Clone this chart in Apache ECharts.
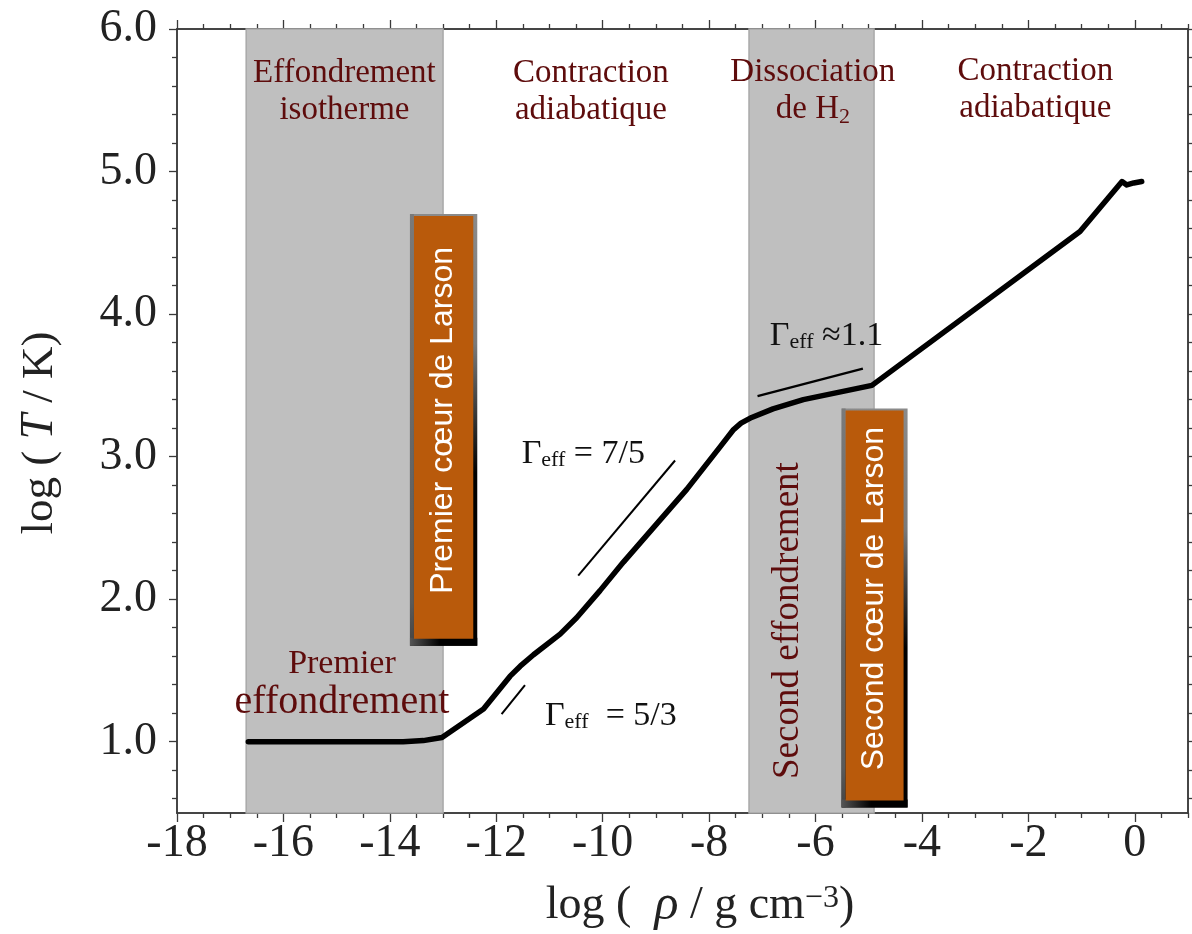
<!DOCTYPE html>
<html><head><meta charset="utf-8">
<script src="https://cdn.jsdelivr.net/npm/echarts@6/dist/echarts.min.js"></script>
<style>html,body{margin:0;padding:0;background:#fff}#c{width:1192px;height:934px}</style>
</head><body><div id="c"></div>
<script>
// ---- data (log rho [g cm^-3], log T [K]) ----
const logRho = [-16.66,-13.75,-13.37,-13.02,-12.24,-11.74,-11.55,-11.30,-10.80,-10.49,-10.05,-9.61,-9.05,-8.42,-7.79,-7.54,-7.40,-7.20,-6.80,-6.23,-4.94,-1.03,-0.24,-0.15,-0.02,0.13];
const logT   = [1.00,1.00,1.008,1.03,1.23,1.46,1.53,1.61,1.755,1.87,2.06,2.26,2.50,2.77,3.07,3.19,3.235,3.275,3.335,3.40,3.50,4.58,4.93,4.906,4.92,4.93];

// reference slopes
const gamma53 = [[-11.90,1.193],[-11.46,1.397]];
const gamma75 = [[-10.46,2.165],[-8.64,2.973]];
const gamma11 = [[-7.09,3.425],[-5.11,3.617]];

// shaded phases (log rho ranges)
const bandRanges = [[-16.7,-13.0],[-7.25,-4.9]];

// Larson cores boxes [x0, y0, x1, y1] in data units
const coreBoxes = [[-13.622,1.674,-12.357,4.702],[-5.510,0.538,-4.270,3.337]];
const coreBoxTexts = ['Premier cœur de Larson','Second cœur de Larson'];

// phase labels
const phaseTexts = ['{a|Effondrement}\n{a|isotherme}','{a|Contraction}\n{a|adiabatique}','{a|Dissociation}\n{a|de H}{b|2}','{a|Contraction}\n{a|adiabatique}'];
const phaseAnchors = [[-14.853,5.560],[-10.221,5.560],[-6.050,5.567],[-1.869,5.575]];

const gammaTexts = ['{g|Γ}{s|eff}{m| = 7/5}','{g|Γ}{s|eff}{m|  = 5/3}','{g|Γ}{s|eff}{m| ≈1.1}'];
const gammaAnchors = [[-11.523,3.016],[-11.085,1.178],[-6.858,3.845]];

const collapseAnchors = [[-14.90,1.411],[-6.519,1.850]];

// axis ticks
const xMajor = [-18,-16,-14,-12,-10,-8,-6,-4,-2,0];
const yMajor = [1,2,3,4,5,6];
const X_MIN = -18, X_MAX = 1, Y_MIN = 0.5, Y_MAX = 6;

const xMinor = []; for (let k = -36; k <= 2; k++) { if (k % 4 !== 0) xMinor.push(k/2); }
const yMinor = []; for (let k = 3; k <= 29; k++) { if (k % 5 !== 0) yMinor.push(k/5); }

const serif = "'Liberation Serif','Times New Roman',serif";
const sans = "'Liberation Sans',Arial,sans-serif";
const axisColor = '#3a3a3a';
const darkRed = '#5e0c0c';
const orange = '#b95a0b';

const chart = echarts.init(document.getElementById('c'));

function xAx(pos, major, withLabel) {
  return {
    type:'value', position:pos, min:X_MIN, max:X_MAX,
    axisLine:{show:true,onZero:false,lineStyle:{color:axisColor,width:1.5}},
    axisTick:{show:true,inside:false,length:major?9:5,customValues:major?xMajor:xMinor,lineStyle:{color:axisColor,width:1.3}},
    axisLabel:{show:!!withLabel,customValues:xMajor,margin:8,fontFamily:serif,fontSize:46,color:'#222',formatter:v=>String(v)},
    splitLine:{show:false}, minorTick:{show:false}
  };
}
function yAx(pos, major, withLabel) {
  return {
    type:'value', position:pos, min:Y_MIN, max:Y_MAX,
    axisLine:{show:true,onZero:false,lineStyle:{color:axisColor,width:1.5}},
    axisTick:{show:true,inside:false,length:major?8:5,customValues:major?yMajor:yMinor,lineStyle:{color:axisColor,width:1.3}},
    axisLabel:{show:!!withLabel,customValues:yMajor,margin:20,fontFamily:serif,fontSize:46,color:'#222',formatter:v=>v.toFixed(1)},
    splitLine:{show:false}, minorTick:{show:false}
  };
}

const xMain = xAx('bottom', true, true);
xMain.name = '{a|log (  }{r|ρ}{a| / g cm}{s|−3}{a|)}';
xMain.nameLocation = 'middle';
xMain.nameGap = 70;
xMain.nameTextStyle = {padding:[0,0,0,35], rich:{
  a:{fontFamily:serif,fontSize:46,color:'#222',lineHeight:46},
  r:{fontFamily:serif,fontSize:50,fontStyle:'italic',color:'#222',lineHeight:46},
  s:{fontFamily:serif,fontSize:32,color:'#222',lineHeight:26,verticalAlign:'top'}
}};
const yMain = yAx('left', true, true);
yMain.name = '{a|log ( }{i|T}{a| / K)}';
yMain.nameLocation = 'middle';
yMain.nameRotate = 90;
yMain.nameGap = 114;
yMain.nameTextStyle = {padding:[0,24,0,0], rich:{
  a:{fontFamily:serif,fontSize:45,color:'#222',lineHeight:46},
  i:{fontFamily:serif,fontSize:46,fontStyle:'italic',color:'#222',lineHeight:46}
}};

const option = {
  animation:false,
  backgroundColor:'#fff',
  grid:{left:177,right:4,top:29,bottom:121,outerBoundsMode:'none',containLabel:false},
  xAxis:[xMain, xAx('bottom',false,false), xAx('top',true,false), xAx('top',false,false)],
  yAxis:[yMain, yAx('left',false,false), yAx('right',true,false), yAx('right',false,false)],
  series:[
    {
      type:'custom', name:'bands', z:1, silent:true,
      data: bandRanges.map(r=>[r[0], r[1]]),
      encode:{x:[0,1]},
      renderItem:(params, api)=>{
        const a = api.coord([api.value(0), Y_MAX]);
        const b = api.coord([api.value(1), Y_MIN]);
        return {type:'rect', shape:{x:a[0], y:a[1], width:b[0]-a[0], height:b[1]-a[1]},
          style:{fill:'#bfbfbf', stroke:'#a9a9a9', lineWidth:1.5}};
      }
    },
    {
      type:'custom', name:'cores', z:3, silent:true,
      data: coreBoxes,
      encode:{x:[0,2], y:[1,3]},
      renderItem:(params, api)=>{
        const i = params.dataIndex;
        const tl = api.coord([api.value(0), api.value(3)]);
        const br = api.coord([api.value(2), api.value(1)]);
        const w = br[0]-tl[0], h = br[1]-tl[1];
        const G = echarts.graphic.LinearGradient;
        return {type:'group', children:[
          {type:'rect', z2:1, shape:{x:tl[0], y:tl[1], width:w, height:h},
            style:{fill:new G(0,0,0,1,[{offset:0,color:'#8a8a8a'},{offset:0.3,color:'#7a7a7a'},{offset:0.6,color:'#000'},{offset:1,color:'#000'}])}},
          {type:'rect', z2:2, shape:{x:tl[0], y:tl[1], width:4, height:h},
            style:{fill:new G(0,0,0,1,[{offset:0,color:'#7a7a7a'},{offset:0.9,color:'#5a5a5a'},{offset:1,color:'#444'}])}},
          {type:'rect', z2:3, shape:{x:tl[0], y:br[1]-8, width:w, height:8},
            style:{fill:new G(0,0,1,0,[{offset:0,color:'#555'},{offset:0.45,color:'#000'},{offset:1,color:'#000'}])}},
          {type:'rect', z2:4, shape:{x:tl[0]+4, y:tl[1]+2, width:w-8, height:h-9}, style:{fill:orange, opacity:1}},
          {type:'text', z2:5, x:tl[0]+w/2, y:tl[1]+2+(h-9)/2-7, rotation:Math.PI/2,
            style:{text:coreBoxTexts[i], fill:'#fff', fontFamily:sans, fontSize:32, align:'center', verticalAlign:'middle'}}
        ]};
      }
    },
    {
      type:'line', name:'log T', z:5, symbol:'none', silent:true,
      data: logRho.map((x,i)=>[x, logT[i]]),
      lineStyle:{color:'#000', width:5.5, cap:'round', join:'round'}
    },
    {type:'line', z:5, symbol:'none', silent:true, data:gamma53, lineStyle:{color:'#000', width:2}},
    {type:'line', z:5, symbol:'none', silent:true, data:gamma75, lineStyle:{color:'#000', width:2}},
    {type:'line', z:5, symbol:'none', silent:true, data:gamma11, lineStyle:{color:'#000', width:2.4}},
    {
      type:'custom', name:'phaseLabels', z:6, silent:true,
      data: phaseAnchors,
      encode:{x:0, y:1},
      renderItem:(params, api)=>{
        const p = api.coord([api.value(0), api.value(1)]);
        return {type:'text', x:p[0], y:p[1], style:{text:phaseTexts[params.dataIndex], align:'center', verticalAlign:'middle', fill:darkRed,
          rich:{a:{fontFamily:serif,fontSize:33,fill:darkRed,lineHeight:37,align:'center'},
                b:{fontFamily:serif,fontSize:22,fill:darkRed,lineHeight:18,verticalAlign:'bottom'}}}};
      }
    },
    {
      type:'custom', name:'collapseLabels', z:6, silent:true,
      data: collapseAnchors,
      encode:{x:0, y:1},
      renderItem:(params, api)=>{
        const p = api.coord([api.value(0), api.value(1)]);
        if (params.dataIndex === 0) {
          return {type:'text', x:p[0], y:p[1], style:{text:'{a|Premier}\n{b|effondrement}', align:'center', verticalAlign:'middle', fill:darkRed,
            rich:{a:{fontFamily:serif,fontSize:34,fill:darkRed,lineHeight:38,align:'center'},
                  b:{fontFamily:serif,fontSize:40,fill:darkRed,lineHeight:38,align:'center'}}}};
        }
        return {type:'text', x:p[0], y:p[1], rotation:Math.PI/2, style:{text:'Second effondrement', align:'center', verticalAlign:'middle',
          fontFamily:serif, fontSize:37, fill:darkRed}};
      }
    },
    {
      type:'custom', name:'gammaLabels', z:6, silent:true,
      data: gammaAnchors,
      encode:{x:0, y:1},
      renderItem:(params, api)=>{
        const p = api.coord([api.value(0), api.value(1)]);
        return {type:'text', x:p[0], y:p[1], style:{text:gammaTexts[params.dataIndex], align:'left', verticalAlign:'middle', fill:'#111',
          rich:{g:{fontFamily:serif,fontSize:34,fill:'#111',lineHeight:34},
                s:{fontFamily:serif,fontSize:22,fill:'#111',lineHeight:16,verticalAlign:'bottom'},
                m:{fontFamily:serif,fontSize:34,fill:'#111',lineHeight:34}}}};
      }
    }
  ]
};
chart.setOption(option);
</script>
</body></html>
